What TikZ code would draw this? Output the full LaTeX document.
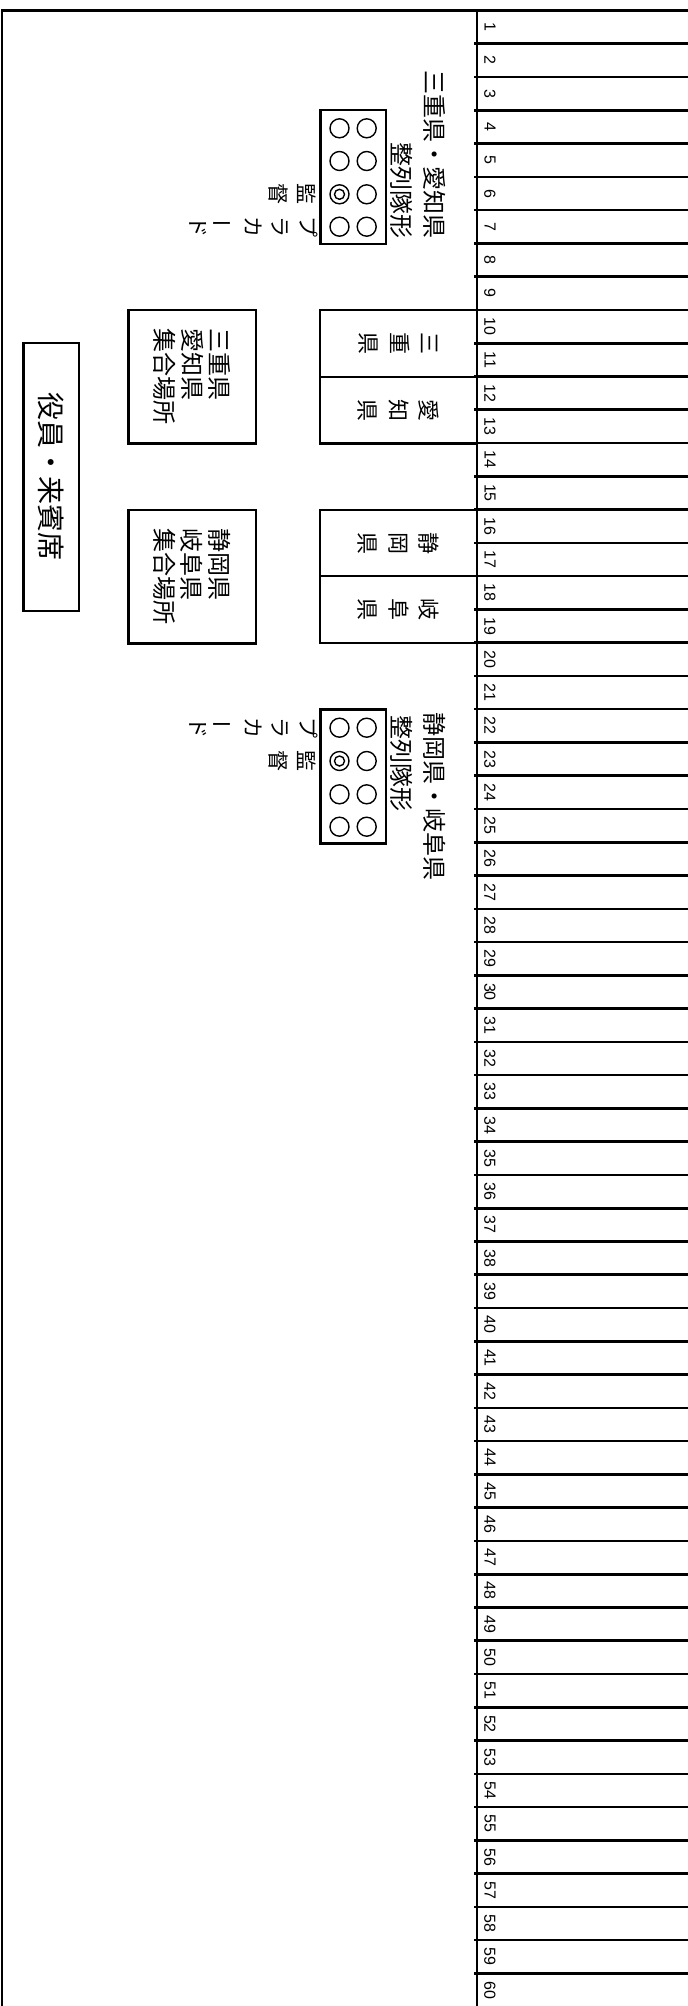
\documentclass[tikz,border=0pt]{standalone}
\usepackage{fontspec}
\setmainfont{Liberation Sans}
\newfontfamily\jp{Noto Sans CJK JP}
\newcommand{\jpfont}[2]{\jp\fontsize{#1}{#2}\selectfont}
\newcommand{\vbar}{\rotatebox[origin=c]{90}{ー}}
\tikzset{
 every node/.append style={inner sep=0pt,outer sep=0pt},
 frame/.style={line width=2.6pt},
 rowline/.style={line width=2.6pt},
 rownum/.style={rotate=-90,font=\fontsize{16}{18}\selectfont},
 caption/.style={rotate=-90,font=\jpfont{24}{30}},
 tate/.style={rotate=-90,align=center,font=\jpfont{21}{27.5}},
 box/.style={draw,line width=2.4pt,rotate=-90,align=center},
 pref/.style={box,minimum width=66.5pt,minimum height=157pt,font=\jpfont{22}{30.5}},
 meet/.style={box,align=left,minimum width=133.3pt,minimum height=127.4pt,font=\jpfont{24}{27.5}},
 seat/.style={box,minimum width=268.3pt,minimum height=55.7pt,font=\jpfont{28}{30}},
 formbox/.style={draw,line width=2.4pt,minimum width=65.3pt,minimum height=134pt},
 person/.style={circle,draw,line width=1.4pt,minimum size=19pt},
 leader/.style={circle,draw,line width=1.4pt,minimum size=10pt},
}
\begin{document}
\begin{tikzpicture}[x=1pt,y=-1pt]
\useasboundingbox (0,0) rectangle (688,2006);
\draw[frame] (2,2006) -- (2,10.5) -- (688,10.5);
\draw[frame] (477,10.5) -- (477,2006);
\foreach \k in {1,...,59} \draw[rowline] (474,{10.5+\k*33.27}) -- (688,{10.5+\k*33.27});
\foreach \k in {1,...,60} \node[rownum] (num\k) at (490,{10.5+(\k-0.5)*33.27}) {\k};

\node[seat] (guest) at (51.2,476.9) {役員・来賓席};

\node[meet] (meetA) at (192,376.7) {三重県\\愛知県\\集合場所};
\node[meet] (meetB) at (192,576.7) {静岡県\\岐阜県\\集合場所};

\node[pref] (mie) at (398.5,343.5) {三\\重\\県};
\node[pref] (aichi) at (398.5,410.2) {愛\\知\\県};
\node[pref] (shizuoka) at (398.5,543) {静\\岡\\県};
\node[pref] (gifu) at (398.5,609.5) {岐\\阜\\県};

\node[formbox] (formA) at (353.3,177) {};
\foreach \r/\y in {1/128.3,2/161,3/194.3,4/226.7} {
 \node[person] (a\r-1) at (339.5,\y) {};
 \node[person] (a\r-2) at (366.7,\y) {};
}
\node[leader] (leadA) at (a3-1) {};
\node[caption,anchor=east] (titleA) at (435,238) {三重県・愛知県};
\node[caption,anchor=east] (lineA) at (402,238) {整列隊形};
\node[tate] (coachA) at (292.5,194.3) {監\\督};
\node[tate] (signA) at (253.3,226.7) {プ\\ラ\\カ\\\vbar\\ド};

\node[formbox] (formB) at (353.3,776.3) {};
\foreach \r/\y in {1/727.7,2/761,3/794.3,4/826.7} {
 \node[person] (b\r-1) at (339.5,\y) {};
 \node[person] (b\r-2) at (366.7,\y) {};
}
\node[leader] (leadB) at (b2-1) {};
\node[caption,anchor=west] (titleB) at (435,712) {静岡県・岐阜県};
\node[caption,anchor=west] (lineB) at (402,715) {整列隊形};
\node[tate] (coachB) at (292.5,761) {監\\督};
\node[tate] (signB) at (253.3,727.7) {プ\\ラ\\カ\\\vbar\\ド};
\end{tikzpicture}
\end{document}
